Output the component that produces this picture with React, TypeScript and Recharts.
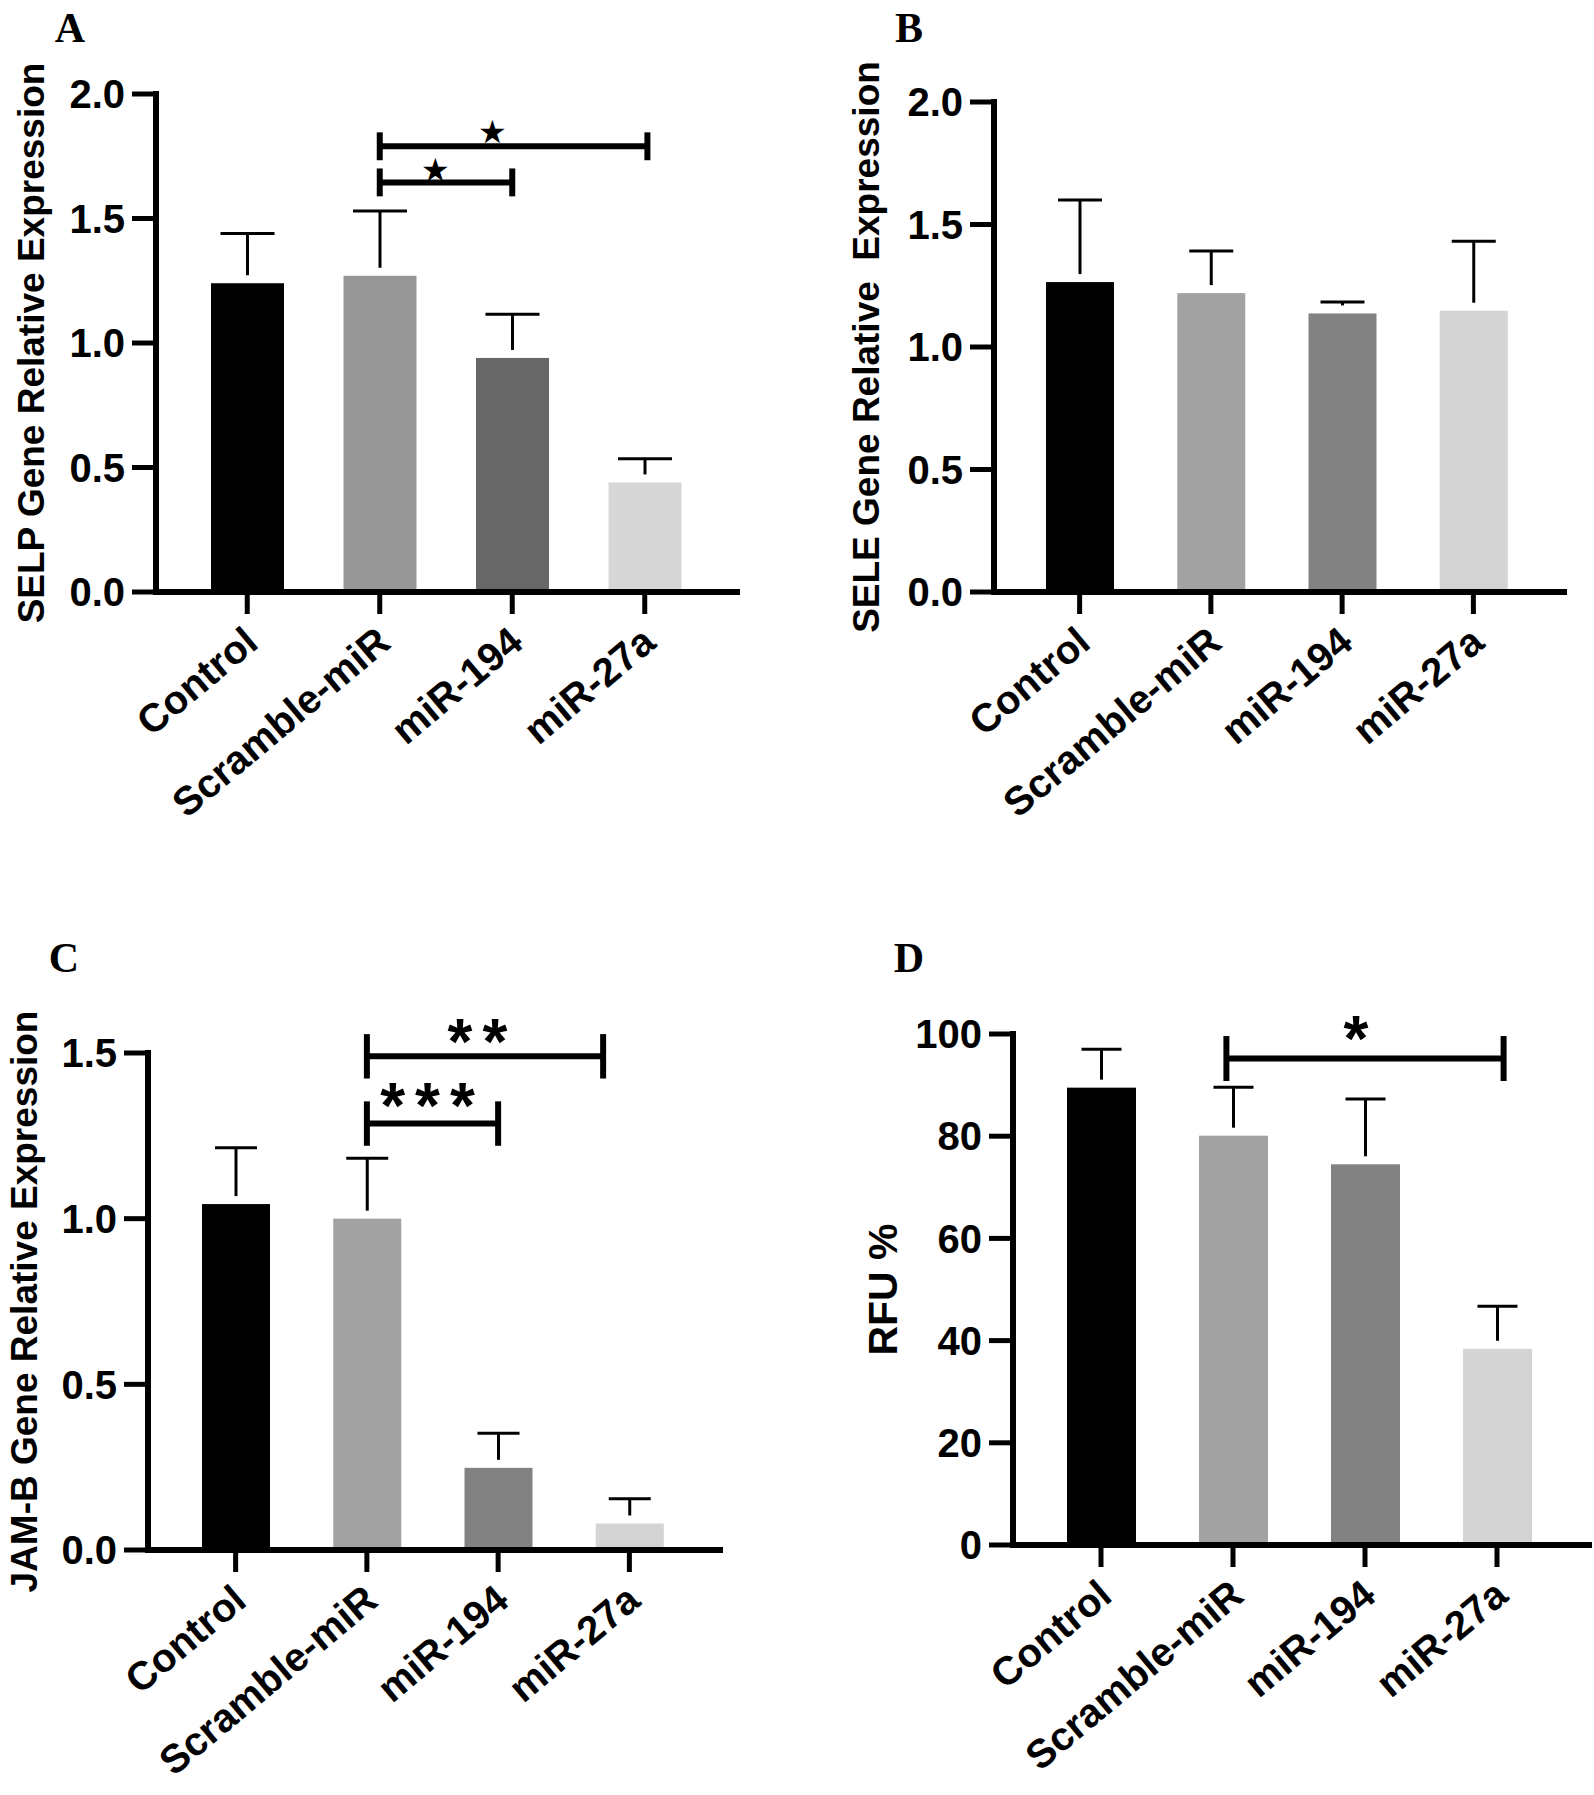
import React from "react";
import { BarChart, Bar, XAxis, YAxis, Cell, ReferenceLine, ReferenceDot } from "recharts";

const SANS = '"Liberation Sans", Arial, Helvetica, sans-serif';
const SERIF = '"Liberation Serif", "Times New Roman", serif';

const groups = ["Control", "Scramble-miR", "miR-194", "miR-27a"];

// mean and SD
const selpMean = [1.24, 1.27, 0.94, 0.44];
const selpSd = [0.2, 0.26, 0.175, 0.095];
const seleMean = [1.265, 1.22, 1.137, 1.148];
const seleSd = [0.335, 0.172, 0.047, 0.284];
const jamMean = [1.044, 1.0, 0.248, 0.08];
const jamSd = [0.17, 0.182, 0.104, 0.075];
const rfuMean = [89.5, 80.1, 74.5, 38.4];
const rfuSd = [7.5, 9.5, 12.8, 8.3];

const relTicks = [0, 0.5, 1, 1.5, 2];
const jamTicks = [0, 0.5, 1, 1.5];
const rfuTicks = [0, 20, 40, 60, 80, 100];

const greysA = ["#000000", "#979797", "#676767", "#d7d7d7"];
const greys = ["#000000", "#a2a2a2", "#828282", "#d4d4d4"];

// significance brackets, x in group index units (Control = 0 ... miR-27a = 3)
const selpBrackets = [
  { x1: 1, x2: 3.02, y: 1.79 },
  { x1: 1, x2: 2, y: 1.645 },
];
const selpMarks = [
  { x: 1.85, y: 1.847, text: "★" },
  { x: 1.42, y: 1.695, text: "★" },
];
const jamBrackets = [
  { x1: 1, x2: 2.8, y: 1.49 },
  { x1: 1, x2: 2, y: 1.287 },
];
const jamMarks = [
  { x: 1.88, y: 1.563, text: "**" },
  { x: 1.5, y: 1.369, text: "***" },
];
const rfuBrackets = [{ x1: 0.95, x2: 3.05, y: 95.2 }];
const rfuMarks = [{ x: 1.97, y: 100.9, text: "*" }];

function AngledTick(props: any) {
  const { x, y, payload } = props;
  const ax = x + 13;
  const ay = y + 32;
  return (
    <text
      x={ax}
      y={ay}
      transform={`rotate(-40, ${ax}, ${ay})`}
      textAnchor="end"
      fontSize={40}
      fontWeight={700}
      fontFamily={SANS}
      fill="#000"
    >
      {payload.value}
    </text>
  );
}

function makeBarShape(capHalf: number) {
  return (props: any) => {
    const { x, y, width, height, fill, payload } = props;
    const perUnit = payload.value > 0 ? height / payload.value : 0;
    const top = y - payload.err * perUnit;
    const cx = x + width / 2;
    const stemEnd = Math.max(top, y - 8);
    return (
      <g>
        <rect x={x} y={y} width={width} height={height} fill={fill} />
        <line x1={cx} x2={cx} y1={top} y2={stemEnd} stroke="#000" strokeWidth={3} />
        <line x1={cx - capHalf} x2={cx + capHalf} y1={top} y2={top} stroke="#000" strokeWidth={3} />
      </g>
    );
  };
}

function MarkLabel(props: any) {
  const vb = props.viewBox || {};
  const cx = vb.x + (vb.width || 0) / 2;
  const cy = vb.y + (vb.height || 0) / 2;
  const star = props.text === "★";
  return (
    <text
      x={cx}
      y={star ? cy : cy + 32}
      textAnchor="middle"
      dominantBaseline={star ? "central" : "auto"}
      fontSize={star ? 32 : 64}
      fontWeight={700}
      fontFamily={star ? '"DejaVu Sans", sans-serif' : SANS}
      letterSpacing={star ? 0 : 10}
      fill="#000"
    >
      {props.text}
    </text>
  );
}

function Panel(p: any) {
  const data = groups.map((name, i) => ({ name, value: p.mean[i], err: p.sd[i] }));
  const plotH = p.height - p.margin.top - p.margin.bottom - p.xAxisHeight;
  const titleX = p.margin.left + 100 - p.titleGap;
  const titleY = p.margin.top + plotH / 2;
  const line = { stroke: "#000", strokeWidth: 6, ifOverflow: "visible" as const, xAxisId: "pos" };
  // numeric twin of the category axis: index i sits on the centre of group i
  const plotW = p.width - p.margin.left - 100 - p.margin.right;
  const band = (plotW - p.padding.left - p.padding.right) / groups.length;
  const posPadding = { left: p.padding.left + band / 2, right: p.padding.right + band / 2 };
  return (
    <div style={{ position: "absolute", left: p.left, top: p.top, width: p.width, height: p.height }}>
      <BarChart width={p.width} height={p.height} data={data} margin={p.margin}>
        <XAxis
          dataKey="name"
          interval={0}
          height={p.xAxisHeight}
          padding={p.padding}
          axisLine={{ stroke: "#000", strokeWidth: 6, strokeLinecap: "square" }}
          tickLine={{ stroke: "#000", strokeWidth: 5 }}
          tickSize={22}
          tickMargin={0}
          tick={(tp: any) => <AngledTick {...tp} />}
        />
        <XAxis
          xAxisId="pos"
          type="number"
          domain={[0, groups.length - 1]}
          padding={posPadding}
          allowDataOverflow
          hide
        />
        <YAxis
          width={100}
          domain={p.domain}
          ticks={p.ticks}
          interval={0}
          allowDataOverflow
          tickFormatter={(v: number) => v.toFixed(p.decimals)}
          axisLine={{ stroke: "#000", strokeWidth: 6, strokeLinecap: "square" }}
          tickLine={{ stroke: "#000", strokeWidth: 5 }}
          tickSize={24}
          tickMargin={7}
          tick={{ fontSize: 40, fontWeight: 700, fill: "#000", fontFamily: SANS }}
          label={() => (
            <text
              x={titleX}
              y={titleY}
              transform={`rotate(-90, ${titleX}, ${titleY})`}
              textAnchor="middle"
              dominantBaseline="central"
              fontSize={p.titleSize}
              fontWeight={700}
              fontFamily={SANS}
              fill="#000"
              style={{ whiteSpace: "pre" }}
            >
              {p.title}
            </text>
          )}
        />
        <Bar dataKey="value" barSize={p.barSize} isAnimationActive={false} shape={makeBarShape(p.capHalf)}>
          {data.map((d, i) => (
            <Cell key={d.name} fill={p.colors[i]} />
          ))}
        </Bar>
        {p.brackets.map((b: any, i: number) => (
          <ReferenceLine key={"h" + i} {...line} segment={[{ x: b.x1, y: b.y }, { x: b.x2, y: b.y }]} />
        ))}
        {p.brackets.flatMap((b: any, i: number) =>
          [b.x1, b.x2].map((xv: number, j: number) => (
            <ReferenceLine
              key={"v" + i + "-" + j}
              {...line}
              segment={[
                { x: xv, y: b.y - p.endHalf },
                { x: xv, y: b.y + p.endHalf },
              ]}
            />
          ))
        )}
        {p.marks.map((m: any, i: number) => (
          <ReferenceDot
            key={"m" + i}
            xAxisId="pos"
            x={m.x}
            y={m.y}
            r={0}
            fill="none"
            stroke="none"
            ifOverflow="visible"
            label={(lp: any) => <MarkLabel {...lp} text={m.text} />}
          />
        ))}
      </BarChart>
    </div>
  );
}

function Letter({ text, left, top }: { text: string; left: number; top: number }) {
  return (
    <div
      style={{
        position: "absolute",
        left,
        top,
        width: 60,
        textAlign: "center",
        fontFamily: SERIF,
        fontWeight: 700,
        fontSize: 42,
        lineHeight: "42px",
      }}
    >
      {text}
    </div>
  );
}

export default function App() {
  return (
    <div style={{ position: "absolute", left: 0, top: 0, width: 1594, height: 1795, background: "#fff", overflow: "hidden" }}>
      <Panel
        left={0}
        top={0}
        width={797}
        height={890}
        margin={{ top: 94, left: 56, right: 60, bottom: 48 }}
        xAxisHeight={250}
        padding={{ left: 25, right: 26 }}
        domain={[0, 2]}
        ticks={relTicks}
        decimals={1}
        title="SELP Gene Relative Expression"
        titleSize={37}
        titleGap={125}
        mean={selpMean}
        sd={selpSd}
        colors={greysA}
        barSize={73}
        capHalf={27}
        brackets={selpBrackets}
        marks={selpMarks}
        endHalf={0.056}
      />
      <Panel
        left={797}
        top={0}
        width={797}
        height={890}
        margin={{ top: 102, left: 97, right: 30, bottom: 48 }}
        xAxisHeight={250}
        padding={{ left: 20, right: 25 }}
        domain={[0, 2]}
        ticks={relTicks}
        decimals={1}
        title="SELE Gene Relative  Expression"
        titleSize={37}
        titleGap={128}
        mean={seleMean}
        sd={seleSd}
        colors={greys}
        barSize={68}
        capHalf={22}
        brackets={[]}
        marks={[]}
        endHalf={0}
      />
      <Panel
        left={0}
        top={890}
        width={797}
        height={905}
        margin={{ top: 163, left: 48, right: 77, bottom: 15 }}
        xAxisHeight={230}
        padding={{ left: 22, right: 25 }}
        domain={[0, 1.5]}
        ticks={jamTicks}
        decimals={1}
        title="JAM-B Gene Relative Expression"
        titleSize={37}
        titleGap={124}
        mean={jamMean}
        sd={jamSd}
        colors={greys}
        barSize={68}
        capHalf={21}
        brackets={jamBrackets}
        marks={jamMarks}
        endHalf={0.067}
      />
      <Panel
        left={797}
        top={890}
        width={797}
        height={905}
        margin={{ top: 144, left: 116, right: 5, bottom: 20 }}
        xAxisHeight={230}
        padding={{ left: 22, right: 26 }}
        domain={[0, 100]}
        ticks={rfuTicks}
        decimals={0}
        title="RFU %"
        titleSize={41}
        titleGap={130}
        mean={rfuMean}
        sd={rfuSd}
        colors={greys}
        barSize={69}
        capHalf={20}
        brackets={rfuBrackets}
        marks={rfuMarks}
        endHalf={4.4}
      />
      <Letter text="A" left={40} top={7} />
      <Letter text="B" left={879} top={7} />
      <Letter text="C" left={34} top={937} />
      <Letter text="D" left={879} top={937} />
    </div>
  );
}
